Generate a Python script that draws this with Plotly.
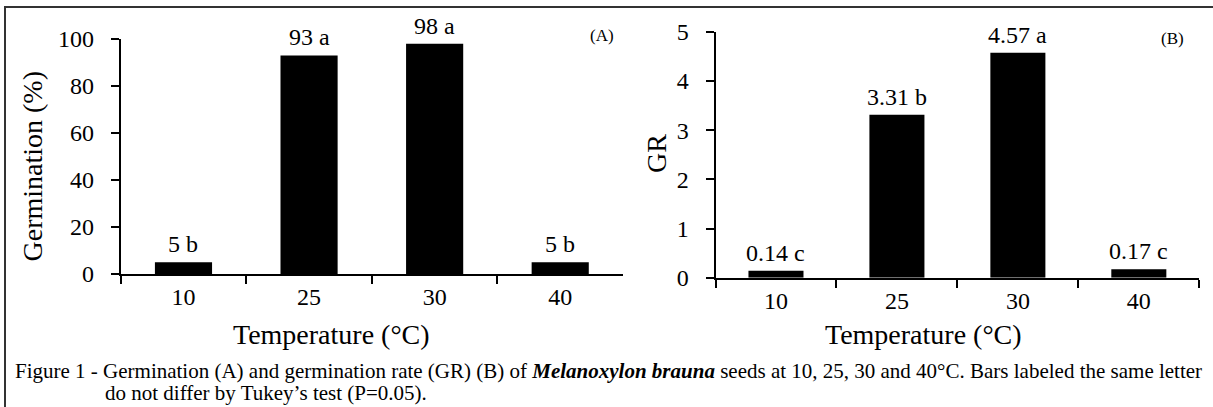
import plotly.graph_objects as go

# ---- data ----
temperatures = ["10", "25", "30", "40"]
germination = [5, 93, 98, 5]
germination_letters = ["b", "a", "a", "b"]
gr_values = [0.14, 3.31, 4.57, 0.17]
gr_letters = ["c", "b", "a", "c"]

W, H = 1213, 407
FONT = "Liberation Serif, Times New Roman, serif"


def px_x(p):
    return p / W


def px_y(p):
    return (H - p) / H


fig = go.Figure()
fig.add_trace(go.Bar(x=temperatures, y=germination, marker=dict(color="black", line=dict(width=0)),
                     xaxis="x", yaxis="y", showlegend=False, hoverinfo="x+y"))
fig.add_trace(go.Bar(x=temperatures, y=gr_values, marker=dict(color="black", line=dict(width=0)),
                     xaxis="x2", yaxis="y2", showlegend=False, hoverinfo="x+y"))

axis_common = dict(showline=True, linecolor="black", linewidth=2, ticks="outside", ticklen=8,
                   tickwidth=2, tickcolor="black", showgrid=False, zeroline=False, tickangle=0,
                   tickfont=dict(family=FONT, size=24, color="black"), automargin=False)
cat_range = [-0.5, len(temperatures) - 0.5]

fig.update_layout(
    width=W, height=H,
    margin=dict(l=0, r=0, t=0, b=0),
    paper_bgcolor="white", plot_bgcolor="white",
    bargap=0.545,
    font=dict(family=FONT, color="black"),
    xaxis=dict(domain=[px_x(120.7), px_x(623)], anchor="y", type="category",
               categoryorder="array", categoryarray=temperatures, range=cat_range,
               tickson="boundaries", **axis_common),
    yaxis=dict(domain=[px_y(274), px_y(39)], anchor="x", range=[0, 100], dtick=20,
               ticklabelstandoff=12, **axis_common),
    xaxis2=dict(domain=[px_x(715.5), px_x(1199.3)], anchor="y2", type="category",
                categoryorder="array", categoryarray=temperatures, range=cat_range,
                tickson="boundaries", **axis_common),
    yaxis2=dict(domain=[px_y(277.7), px_y(31.7)], anchor="x2", range=[0, 5], dtick=1,
                ticklabelstandoff=12, **axis_common),
)

annotations = []
# bar labels (x given as category index)
for i, (v, l) in enumerate(zip(germination, germination_letters)):
    annotations.append(dict(x=i, y=v, xref="x", yref="y", text=f"{v} {l}", showarrow=False,
                            yanchor="middle", yshift=18,
                            font=dict(family=FONT, size=24, color="black")))
for i, (v, l) in enumerate(zip(gr_values, gr_letters)):
    annotations.append(dict(x=i, y=v, xref="x2", yref="y2", text=f"{v:.2f} {l}", showarrow=False,
                            yanchor="middle", yshift=18,
                            font=dict(family=FONT, size=24, color="black")))

# axis titles and captions
annotations += [
    dict(x=px_x(331.5), y=px_y(334), xref="paper", yref="paper", text="Temperature (°C)",
         showarrow=False, xanchor="center", yanchor="middle",
         font=dict(family=FONT, size=28, color="black")),
    dict(x=px_x(923.5), y=px_y(334), xref="paper", yref="paper", text="Temperature (°C)",
         showarrow=False, xanchor="center", yanchor="middle",
         font=dict(family=FONT, size=28, color="black")),
    dict(x=px_x(31.5), y=px_y(166), xref="paper", yref="paper", text="Germination (%)",
         showarrow=False, xanchor="center", yanchor="middle", textangle=-90,
         font=dict(family=FONT, size=28, color="black")),
    dict(x=px_x(656), y=px_y(154), xref="paper", yref="paper", text="GR",
         showarrow=False, xanchor="center", yanchor="middle", textangle=-90,
         font=dict(family=FONT, size=28, color="black")),
    dict(x=px_x(602), y=px_y(36), xref="paper", yref="paper", text="(A)",
         showarrow=False, xanchor="center", yanchor="middle",
         font=dict(family=FONT, size=17, color="black")),
    dict(x=px_x(1172), y=px_y(39), xref="paper", yref="paper", text="(B)",
         showarrow=False, xanchor="center", yanchor="middle",
         font=dict(family=FONT, size=17, color="black")),
    dict(x=px_x(14), y=px_y(371), xref="paper", yref="paper",
         text="Figure 1 - Germination (A) and germination rate (GR) (B) of <b><i>Melanoxylon brauna</i></b> seeds at 10, 25, 30 and 40°C. Bars labeled the same letter",
         showarrow=False, xanchor="left", yanchor="middle", borderpad=0,
         font=dict(family=FONT, size=21, color="black")),
    dict(x=px_x(104), y=px_y(393), xref="paper", yref="paper",
         text="do not differ by Tukey’s test (P=0.05).",
         showarrow=False, xanchor="left", yanchor="middle", borderpad=0,
         font=dict(family=FONT, size=21, color="black")),
]
fig.update_layout(annotations=annotations)

# outer frame (open to the right and bottom as in the reference)
fig.add_shape(type="rect", xref="paper", yref="paper", x0=px_x(5), x1=1.05, y0=-0.05, y1=px_y(7),
              line=dict(color="#333333", width=2), fillcolor="rgba(0,0,0,0)", layer="below")

fig.write_html("out.html", config={"displayModeBar": False},
               post_script="document.body.style.margin='0';document.body.style.overflow='hidden';")
